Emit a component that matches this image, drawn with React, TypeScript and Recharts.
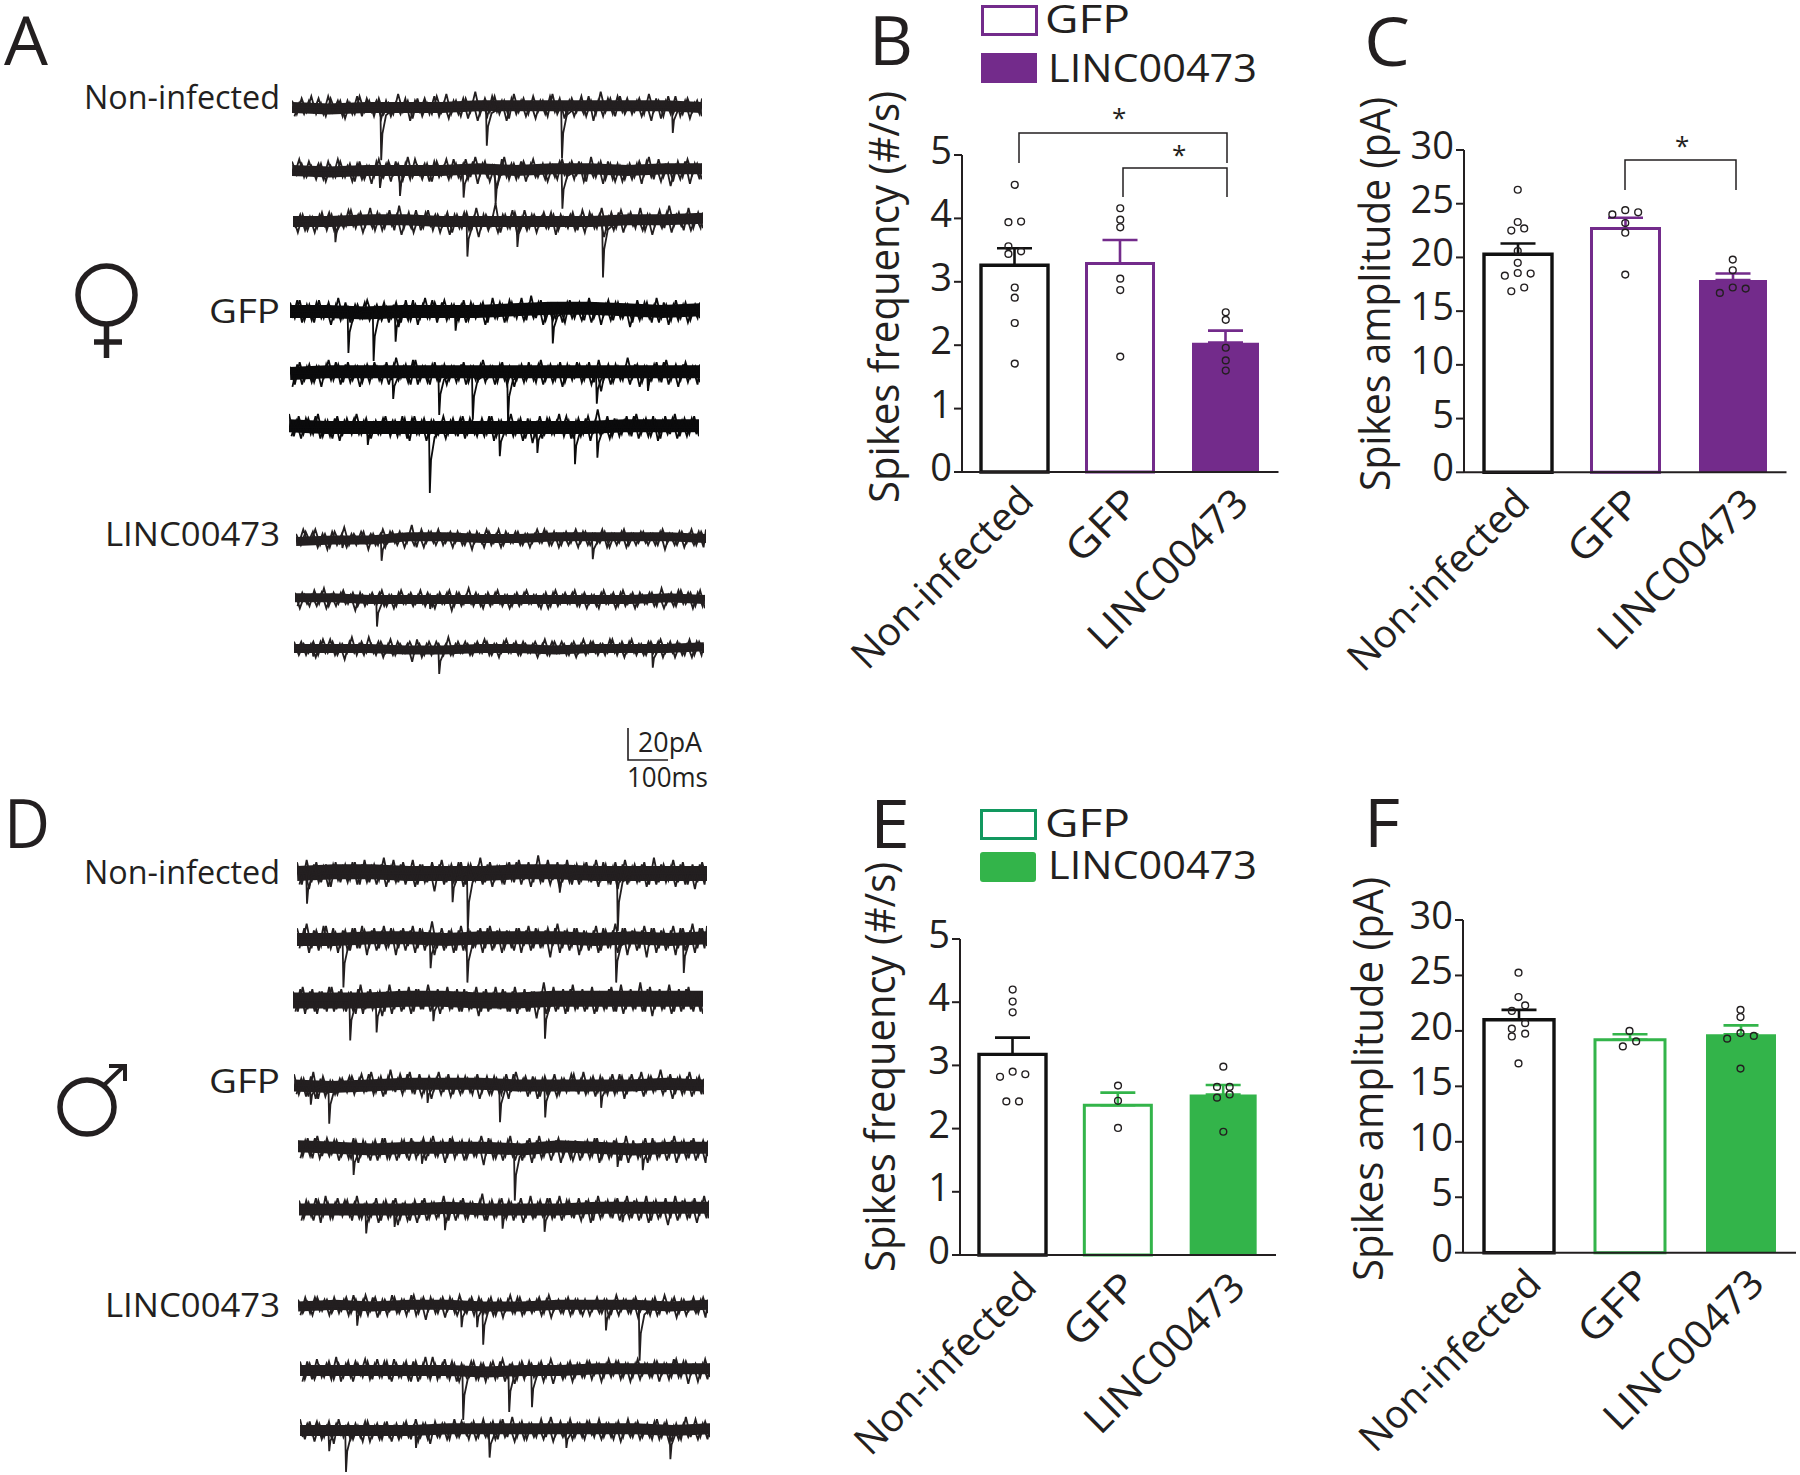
import React from 'react';
import { ComposedChart, LineChart, Line, Bar, Scatter, ErrorBar, XAxis, YAxis } from 'recharts';

const INK = '#231f20';
const PURPLE = '#732b8b';
const GREEN = '#33b44a';
const TEAL = '#12985f';

const groups = ['Non-infected', 'GFP', 'LINC00473'];
const freqTicks = [0, 1, 2, 3, 4, 5];
const ampTicks = [0, 5, 10, 15, 20, 25, 30];

// Panel B
const bMeans = [3.26, 3.29, 2.04];
const bSem = [0.27, 0.37, 0.19];
const bDots = [
  [0, 0, 4.53], [0, -0.06, 3.94], [0, 0.06, 3.95], [0, -0.06, 3.56], [0, 0.06, 3.48], [0, -0.06, 3.44], [0, 0, 2.91], [0, 0, 2.75], [0, 0, 2.35], [0, 0, 1.71],
  [1, 0, 4.16], [1, 0, 3.98], [1, 0, 3.86], [1, 0, 3.05], [1, 0, 2.87], [1, 0, 1.82],
  [2, 0, 2.52], [2, 0, 2.4], [2, 0, 1.96], [2, 0, 1.76], [2, 0, 1.6],
];
// Panel C
const cMeans = [20.3, 22.7, 17.9];
const cSem = [1.0, 1.0, 0.6];
const cDots = [
  [0, 0, 26.3], [0, 0, 23.3], [0, -0.06, 22.5], [0, 0.06, 22.7], [0, 0, 20.6], [0, 0, 19.5], [0, 0, 18.55], [0, -0.12, 18.3], [0, 0.12, 18.5], [0, 0.06, 17.2], [0, -0.06, 16.85],
  [1, 0, 24.4], [1, -0.12, 24.0], [1, 0.12, 24.2], [1, 0, 23.2], [1, 0, 22.3], [1, 0, 18.4],
  [2, 0, 19.8], [2, 0, 18.8], [2, 0, 17.2], [2, -0.12, 16.7], [2, 0.12, 17.1],
];
// Panel E
const eMeans = [3.175, 2.37, 2.54];
const eSem = [0.265, 0.2, 0.15];
const eDots = [
  [0, 0, 4.2], [0, 0, 4.01], [0, 0, 3.84], [0, 0, 2.9], [0, -0.12, 2.82], [0, 0.12, 2.86], [0, -0.06, 2.43], [0, 0.06, 2.43],
  [1, 0, 2.68], [1, 0, 2.44], [1, 0, 2.01],
  [2, 0, 2.98], [2, -0.06, 2.66], [2, 0.06, 2.66], [2, -0.06, 2.49], [2, 0.06, 2.54], [2, 0, 1.95],
];
// Panel F
const fMeans = [21.0, 19.2, 19.7];
const fSem = [0.9, 0.5, 0.8];
const fDots = [
  [0, 0, 25.25], [0, 0, 23.05], [0, 0.06, 22.3], [0, -0.06, 21.8], [0, 0.06, 20.7], [0, -0.06, 20.2], [0, -0.06, 19.5], [0, 0.06, 19.75], [0, 0, 17.07],
  [1, 0, 20.0], [1, 0.06, 19.05], [1, -0.06, 18.6],
  [2, 0, 21.9], [2, 0, 21.25], [2, 0, 19.8], [2, -0.12, 19.3], [2, 0.12, 19.55], [2, 0, 16.6],
];

// Current traces: fringe samples in pA, slow drift in pA, events as [ms, depth in pA]
const a1Noise = [3,-3,4,-2,5,-3,2,-4,4,-2,3,-5,2,-3,5,-2,3,-4,4,-3,2,-3,6,-2,3,-5,4,-4,2,-3,5,-2,6,-3,3,-4,4,-2,7,-3,4,-2,5,-3,3,-5,6,-2,4,-3,5,-2,3,-4,6,-3,2,-3,4,-2,5,-4,3,-3,7,-2,4,-4,5,-3,2,-2,4,-3,6,-2,3,-4,5,-3,2,-3,4,-2,3,-4];
const a2Noise = [4,-2,3,-3,2,-4,3,-5,2,-3,4,-3,3,-5,4,-4,2,-3,5,-3,4,-2,3,-4,6,-3,2,-4,3,-5,4,-2,5,-3,3,-4,5,-3,6,-2,4,-5,2,-3,6,-4,3,-3,4,-2,5,-3,3,-5,2,-4,5,-3,4,-2,3,-5,6,-3,4,-4,3,-5,2,-4,3,-3,4,-2,6,-4,5,-3,3,-5,4,-3,5,-2,3,-4];
const a3Noise = [2,-5,3,-4,2,-3,4,-4,3,-5,3,-2,5,-3,4,-2,6,-4,3,-3,5,-4,7,-3,4,-5,2,-3,5,-4,3,-2,4,-5,3,-3,4,-4,6,-3,3,-2,8,-5,3,-3,4,-4,5,-3,3,-2,4,-3,3,-4,2,-3,4,-4,5,-2,3,-3,6,-4,4,-3,5,-2,4,-3,6,-4,3,-2,5,-3,7,-2,4,-4,6,-3,4,-3];
const a4Noise = [4,-3,5,-4,3,-5,5,-3,4,-4,6,-3,2,-4,3,-3,5,-2,3,-4,2,-3,4,-5,5,-4,3,-3,6,-3,4,-2,5,-3,3,-4,5,-4,3,-2,4,-5,6,-3,3,-4,4,-3,6,-4,7,-3,5,-4,3,-3,2,-5,5,-3,4,-4,6,-3,3,-2,5,-4,4,-3,3,-5,5,-3,4,-5,6,-3,3,-4,5,-3,4,-4,3,-3];
const a5Noise = [3,-5,5,-3,4,-4,3,-2,6,-3,4,-4,5,-3,3,-4,4,-2,3,-4,5,-3,7,-2,4,-5,6,-3,3,-5,5,-4,4,-3,3,-3,5,-4,3,-3,6,-2,3,-4,5,-5,2,-3,4,-3,3,-4,6,-3,4,-3,5,-4,3,-2,4,-3,5,-4,6,-3,4,-4,3,-3,7,-2,4,-4,3,-3,5,-4,6,-3,4,-3,5,-2,3,-4];
const a6Noise = [6,-4,5,-3,4,-3,6,-4,3,-5,5,-4,4,-3,6,-3,4,-5,3,-3,5,-4,3,-3,4,-6,5,-3,4,-4,3,-3,5,-3,4,-4,5,-3,3,-4,4,-3,5,-4,3,-3,6,-3,4,-5,3,-4,5,-3,4,-3,6,-4,3,-5,4,-3,5,-3,8,-3,5,-4,3,-3,5,-4,6,-3,4,-4,3,-5,5,-3,6,-4,4,-3,5,-4];
const a7Noise = [2,-3,3,-2,4,-3,2,-4,3,-2,5,-3,2,-2,3,-5,2,-3,4,-2,3,-3,2,-2,6,-4,4,-2,3,-3,2,-2,3,-2,2,-3,3,-2,2,-4,3,-2,4,-3,2,-2,3,-3,2,-2,4,-2,3,-3,2,-3,3,-2,4,-2,3,-3,2,-2,3,-4,2,-2,4,-3,2,-2,3,-3,2,-3,4,-2,2,-3,3,-2,4,-3,3,-2];
const a8Noise = [3,-4,2,-3,4,-2,5,-3,3,-2,4,-2,3,-3,2,-2,3,-2,4,-3,2,-3,4,-2,3,-2,4,-3,2,-4,3,-2,4,-3,3,-2,5,-3,2,-4,3,-2,4,-3,2,-3,3,-2,4,-2,2,-4,3,-3,4,-2,3,-2,4,-3,3,-2,2,-4,4,-2,3,-3,4,-2,3,-3,2,-2,3,-3,5,-2,3,-3,4,-2,3,-3,4,-4];
const a9Noise = [3,-3,2,-2,3,-3,4,-2,3,-3,2,-2,5,-3,3,-2,2,-3,3,-2,4,-3,2,-2,3,-2,2,-3,3,-2,2,-3,5,-3,3,-2,2,-3,3,-2,3,-3,2,-2,4,-2,3,-3,2,-2,3,-2,4,-3,3,-2,2,-3,3,-2,4,-2,3,-3,2,-2,4,-3,3,-2,4,-3,2,-3,3,-2,4,-2,3,-4,2,-3,4,-3,3,-2];
const d1Noise = [5,-5,6,-4,5,-4,4,-6,5,-4,4,-3,5,-5,6,-4,4,-3,7,-4,6,-4,5,-3,6,-5,4,-4,5,-3,6,-4,4,-3,5,-5,4,-3,7,-4,5,-3,3,-5,5,-4,6,-3,5,-4,8,-4,6,-3,5,-4,6,-5,4,-3,5,-4,6,-3,4,-5,5,-4,6,-3,4,-4,5,-5,7,-4,4,-3,6,-4,5,-5,4,-4,5,-3];
const d2Noise = [5,-3,7,-4,4,-3,6,-4,3,-3,4,-5,5,-4,4,-3,5,-4,6,-3,4,-4,5,-3,6,-4,4,-3,8,-4,5,-3,4,-5,6,-4,3,-3,5,-4,6,-3,4,-4,3,-5,5,-3,6,-4,4,-3,5,-3,7,-4,4,-3,5,-4,3,-3,6,-5,4,-3,7,-4,5,-3,4,-4,6,-3,5,-4,4,-3,6,-4,5,-3,7,-4,5,-3];
const d3Noise = [4,-5,6,-4,5,-6,4,-5,6,-4,5,-5,4,-6,7,-4,5,-3,4,-5,7,-4,5,-4,6,-5,5,-4,7,-3,5,-4,6,-4,5,-5,4,-4,6,-5,5,-4,6,-4,4,-5,6,-4,5,-5,4,-4,8,-5,6,-4,5,-5,7,-4,5,-4,6,-5,4,-4,6,-5,7,-4,5,-4,8,-5,6,-4,5,-4,7,-5,5,-4,6,-5,4,-6];
const d4Noise = [5,-4,3,-5,6,-6,4,-3,2,-4,3,-3,4,-2,5,-3,6,-3,4,-4,7,-3,5,-2,6,-4,5,-3,4,-2,6,-3,5,-4,4,-3,3,-4,5,-3,4,-4,3,-4,5,-3,6,-2,4,-3,3,-5,4,-3,5,-4,3,-2,5,-4,6,-3,4,-3,3,-4,5,-3,4,-4,5,-3,6,-3,4,-2,7,-3,5,-4,4,-3,6,-3,4,-4];
const d5Noise = [4,-3,5,-4,6,-3,5,-2,4,-3,2,-4,4,-3,3,-5,4,-3,5,-4,2,-3,4,-5,3,-2,5,-3,6,-3,4,-3,5,-2,4,-4,3,-3,6,-2,4,-4,3,-3,6,-5,2,-3,5,-4,6,-3,4,-2,5,-3,3,-5,2,-3,4,-3,5,-4,3,-3,4,-5,6,-3,2,-3,5,-4,3,-3,4,-3,6,-3,4,-4,5,-3,4,-3];
const d6Noise = [4,-4,3,-5,4,-3,3,-4,5,-3,4,-5,6,-4,3,-3,5,-5,4,-3,5,-4,3,-5,4,-3,5,-4,3,-3,6,-5,4,-3,5,-4,3,-3,7,-5,4,-3,5,-4,3,-3,5,-4,6,-4,4,-3,5,-4,6,-3,4,-4,5,-3,4,-5,6,-3,4,-4,5,-3,6,-4,4,-3,6,-5,4,-3,5,-4,6,-3,4,-4,5,-3,6,-4];
const d7Noise = [3,-3,2,-4,4,-2,3,-3,2,-2,4,-3,3,-4,5,-2,4,-3,3,-2,4,-3,3,-2,5,-3,4,-2,3,-3,4,-2,3,-4,2,-3,4,-2,3,-3,4,-4,3,-2,5,-3,4,-3,3,-2,4,-3,5,-2,3,-3,4,-3,3,-4,2,-2,4,-3,3,-3,5,-2,3,-3,4,-2,3,-4,4,-3,5,-2,4,-3,3,-2,4,-3,4,-3];
const d8Noise = [4,-4,3,-4,2,-3,4,-4,3,-3,4,-5,3,-3,4,-4,5,-3,4,-5,3,-3,4,-5,4,-3,6,-4,3,-3,5,-4,3,-5,2,-3,4,-4,3,-3,4,-3,5,-3,3,-4,4,-2,3,-3,4,-3,5,-2,3,-3,4,-3,3,-3,4,-2,3,-3,5,-2,4,-3,3,-3,5,-2,3,-3,4,-2,3,-3,5,-3,4,-2,3,-3,5,-3];
const d9Noise = [5,-4,4,-5,3,-3,4,-6,5,-3,3,-4,2,-5,4,-3,3,-4,4,-5,3,-3,4,-4,5,-3,3,-6,4,-3,3,-4,5,-3,3,-4,4,-3,5,-3,4,-4,5,-3,6,-3,4,-4,3,-3,5,-3,6,-2,4,-3,5,-3,3,-4,4,-3,5,-3,3,-4,4,-3,5,-3,4,-3,3,-4,5,-3,4,-5,3,-4,6,-3,5,-3,4,-3];

const a1Drift = [0, -1, 0, 0, 0, 1, 1, 1, 1, 1, 1, 0];
const a2Drift = [0, -1, 0, 0, 0, 1, 0, 1, 1, 0, 1, 1];
const a3Drift = [0, 0, 1, 1, 0, 0, 0, 0, 0, 1, 1, 2];
const a4Drift = [0, 0, -1, 0, 0, 0, 1, 2, 2, 1, 0, 1];
const a5Drift = [0, 1, 1, 1, 1, 1, 1, 1, 1, 1, 1, 1];
const a6Drift = [1, 0, 0, 0, 0, 0, 0, 0, 0, 1, 1, 1];
const a7Drift = [-2, -1, -1, 1, 1, 0, 0, 1, 1, 1, 1, 0];
const a8Drift = [1, 1, 0, 0, 0, 0, 0, 0, 0, 0, 1, 0];
const a9Drift = [0, 0, 0, -1, -1, 0, 0, -1, 0, 0, 0, 1];
const d1Drift = [0, 1, 1, 0, 0, 0, 1, 1, 0, 0, 0, 0];
const d2Drift = [0, 0, 1, 1, 0, 1, 1, 1, 0, 1, 0, 1];
const d3Drift = [0, 0, 0, 1, 1, 0, 0, 1, 1, 1, 1, 1];
const d4Drift = [0, -1, 0, 1, 1, 1, 0, 0, 0, 0, 1, 0];
const d5Drift = [2, 1, 0, 1, 1, 1, 0, 2, 1, 0, 1, 1];
const d6Drift = [0, 0, 0, 0, 1, 0, 0, 0, 1, 1, 1, 1];
const d7Drift = [0, 1, 0, 1, 1, 0, 0, 1, 1, 1, 0, 1];
const d8Drift = [0, 0, 0, 0, 0, -1, 0, 0, 1, 1, 1, 1];
const d9Drift = [0, 0, 0, 0, 1, 1, 1, 1, 1, 1, 0, 1];

const a1Events = [[223, 33], [487, 24], [675, 32], [952, 16]];
const a2Events = [[220, 11], [270, 16], [429, 17], [509, 21], [676, 24]];
const a3Events = [[106, 13], [436, 22], [561, 16], [775, 35]];
const a4Events = [[146, 26], [209, 31], [264, 19], [414, 12], [657, 20]];
const a5Events = [[258, 16], [373, 26], [457, 29], [545, 29], [767, 19], [895, 11]];
const a6Events = [[197, 11], [352, 41], [527, 18], [621, 16], [715, 23], [771, 19]];
const a7Events = [[116, 6], [214, 14], [742, 13]];
const a8Events = [[205, 17], [338, 6]];
const a9Events = [[48, 5], [363, 16], [897, 12]];
const d1Events = [[25, 19], [389, 18], [427, 36], [657, 12], [802, 36]];
const d2Events = [[116, 30], [334, 18], [426, 27], [798, 27], [967, 21]];
const d3Events = [[143, 25], [209, 20], [351, 13], [630, 24]];
const d4Events = [[42, 12], [88, 24], [334, 11], [515, 23], [628, 20], [768, 14]];
const d5Events = [[139, 16], [310, 9], [542, 32], [799, 11], [862, 13]];
const d6Events = [[168, 15], [239, 11], [365, 13], [509, 12], [614, 14], [809, 8]];
const d7Events = [[148, 12], [409, 13], [448, 13], [463, 24], [770, 15], [854, 34]];
const d8Events = [[408, 31], [523, 26], [580, 23]];
const d9Events = [[73, 13], [115, 26], [290, 11], [474, 17], [666, 11], [926, 18]];

const DURATION = 1025; // ms across one trace
const PX_PER_PA = 1.6;
const FRINGE_GAIN = 1.4;

const traces = [
  { left: 292, mid: 107, noise: a1Noise, second: a2Noise, drift: a1Drift, events: a1Events, band: 11, color: '#231f20' },
  { left: 292, mid: 170, noise: a2Noise, second: a3Noise, drift: a2Drift, events: a2Events, band: 11, color: '#231f20' },
  { left: 293, mid: 221, noise: a3Noise, second: a1Noise, drift: a3Drift, events: a3Events, band: 11, color: '#231f20' },
  { left: 290, mid: 311, noise: a4Noise, second: a5Noise, drift: a4Drift, events: a4Events, band: 13, color: '#0b0b0c' },
  { left: 290, mid: 373, noise: a5Noise, second: a6Noise, drift: a5Drift, events: a5Events, band: 13, color: '#0b0b0c' },
  { left: 289, mid: 427, noise: a6Noise, second: a4Noise, drift: a6Drift, events: a6Events, band: 13, color: '#0b0b0c' },
  { left: 296, mid: 538, noise: a7Noise, second: a8Noise, drift: a7Drift, events: a7Events, band: 9, color: '#231f20' },
  { left: 295, mid: 599, noise: a8Noise, second: a9Noise, drift: a8Drift, events: a8Events, band: 9, color: '#231f20' },
  { left: 294, mid: 648, noise: a9Noise, second: a7Noise, drift: a9Drift, events: a9Events, band: 9, color: '#231f20' },
  { left: 297, mid: 873, noise: d1Noise, second: d2Noise, drift: d1Drift, events: d1Events, band: 15, color: '#231f20' },
  { left: 297, mid: 939, noise: d2Noise, second: d3Noise, drift: d2Drift, events: d2Events, band: 13, color: '#231f20' },
  { left: 293, mid: 1000, noise: d3Noise, second: d1Noise, drift: d3Drift, events: d3Events, band: 16, color: '#231f20' },
  { left: 294, mid: 1085, noise: d4Noise, second: d5Noise, drift: d4Drift, events: d4Events, band: 12, color: '#231f20' },
  { left: 298, mid: 1149, noise: d5Noise, second: d6Noise, drift: d5Drift, events: d5Events, band: 12, color: '#231f20' },
  { left: 299, mid: 1209, noise: d6Noise, second: d4Noise, drift: d6Drift, events: d6Events, band: 12, color: '#231f20' },
  { left: 298, mid: 1306, noise: d7Noise, second: d8Noise, drift: d7Drift, events: d7Events, band: 10, color: '#231f20' },
  { left: 300, mid: 1370, noise: d8Noise, second: d9Noise, drift: d8Drift, events: d8Events, band: 11, color: '#231f20' },
  { left: 300, mid: 1430, noise: d9Noise, second: d7Noise, drift: d9Drift, events: d9Events, band: 11, color: '#231f20' },
];

const FONT = '"Open Sans", sans-serif';

function Trace({ left, mid, noise, second, drift, events, band, color }: any) {
  // one table for the series, gaps are bridged by connectNulls
  const rows: any[] = [];
  const step = DURATION / (noise.length - 1);
  noise.forEach((v: number, i: number) => rows.push({ t: i * step, fringe: v * FRINGE_GAIN }));
  second.forEach((v: number, i: number) => rows.push({ t: Math.min((i + 0.5) * step, DURATION), fringe2: -v * FRINGE_GAIN }));
  drift.forEach((v: number, i: number) => rows.push({ t: (i * DURATION) / (drift.length - 1), level: v }));
  rows.push({ t: 0, event: 0 }, { t: DURATION, event: 0 });
  events.forEach(([t, d]: number[]) => {
    rows.push({ t: t - 2, event: 0 }, { t, event: -d }, { t: t + 3, event: -d * 0.5 }, { t: t + 12, event: -d * 0.15 }, { t: t + 35, event: 0 });
  });
  rows.sort((p, q) => p.t - q.t);
  const top = 14;
  const bottom = -50;
  const height = (top - bottom) * PX_PER_PA;
  return (
    <div style={{ position: 'absolute', left, top: mid - top * PX_PER_PA }}>
      <LineChart width={410} height={height} data={rows} margin={{ top: 0, right: 0, bottom: 0, left: 0 }}>
        <XAxis hide type="number" dataKey="t" domain={[0, DURATION]} />
        <YAxis hide type="number" domain={[bottom, top]} />
        <Line dataKey="level" connectNulls stroke={color} strokeWidth={band} dot={false} strokeLinecap="butt" isAnimationActive={false} />
        <Line dataKey="fringe" connectNulls stroke={color} strokeWidth={1.8} dot={false} isAnimationActive={false} />
        <Line dataKey="fringe2" connectNulls stroke={color} strokeWidth={1.8} dot={false} isAnimationActive={false} />
        <Line dataKey="event" connectNulls stroke={color} strokeWidth={1.8} dot={false} isAnimationActive={false} />
      </LineChart>
    </div>
  );
}

const YTick = ({ x, y, payload }: any) => (
  <text x={x} y={y + 9} textAnchor="end" fontFamily={FONT} fontSize={38} fill={INK}>{payload.value}</text>
);

const labelLengths: Record<string, number> = { 'Non-infected': 238, GFP: 85, 'LINC00473': 208 };

const XTick = ({ x, y, payload, offsets }: any) => {
  const [dx, dy] = offsets[groups.indexOf(payload.value)] || [0, 0];
  return (
    <text
      transform={`translate(${x + dx},${y + dy}) rotate(-45)`}
      textAnchor="end"
      fontFamily={FONT}
      fontSize={39}
      fill={INK}
      textLength={labelLengths[payload.value]}
      lengthAdjust="spacingAndGlyphs"
    >
      {payload.value}
    </text>
  );
};

function BarPanel({ left, y0, yTop, plotW, barW, means, sem, dots, ticks, max, accent, offsets }: any) {
  const yW = 80;
  const pad = 90; // room for the slanted first label
  const mt = 20;
  const plotH = y0 - yTop;
  const rows = groups.map((name, i) => ({ name, a: i === 0 ? means[i] : null, b: i === 1 ? means[i] : null, c: i === 2 ? means[i] : null, err: [0, sem[i]] }));
  const pts = dots.map(([g, off, v]: number[]) => ({ x: g + 0.5 + off, y: v }));
  const ring = (p: any) => <circle cx={p.cx} cy={p.cy} r={3.4} fill="none" stroke={INK} strokeWidth={1.4} />;
  const axisLine = { stroke: INK, strokeWidth: 2 };
  return (
    <div style={{ position: 'absolute', left: left - yW - pad, top: yTop - mt }}>
      <ComposedChart width={pad + yW + plotW + 10} height={mt + plotH + 230} data={rows} margin={{ top: mt, right: 10, bottom: 0, left: pad }} barCategoryGap={0}>
        <XAxis dataKey="name" height={230} interval={0} axisLine={axisLine} tickLine={false} tick={<XTick offsets={offsets} />} />
        <XAxis xAxisId="dots" dataKey="x" hide type="number" domain={[0, 3]} />
        <YAxis width={yW} type="number" domain={[0, max]} ticks={ticks} interval={0} axisLine={axisLine} tickLine={{ stroke: INK, strokeWidth: 2 }} tickSize={8} tick={<YTick />} />
        <Bar dataKey="a" stackId="s" barSize={barW - 3} fill="#ffffff" stroke="#111111" strokeWidth={3.4} isAnimationActive={false}>
          <ErrorBar dataKey="err" width={17.5} stroke="#111111" strokeWidth={2.6} direction="y" isAnimationActive={false} />
        </Bar>
        <Bar dataKey="b" stackId="s" barSize={barW - 3} fill="#ffffff" stroke={accent} strokeWidth={3} isAnimationActive={false}>
          <ErrorBar dataKey="err" width={17.5} stroke={accent} strokeWidth={2.6} direction="y" isAnimationActive={false} />
        </Bar>
        <Bar dataKey="c" stackId="s" barSize={barW} fill={accent} isAnimationActive={false}>
          <ErrorBar dataKey="err" width={17.5} stroke={accent} strokeWidth={2.6} direction="y" isAnimationActive={false} />
        </Bar>
        <Scatter data={pts} xAxisId="dots" dataKey="y" shape={ring} isAnimationActive={false} />
      </ComposedChart>
    </div>
  );
}

const Txt = ({ x, y, size, len, children, rot }: any) => (
  <text
    x={rot ? undefined : x}
    y={rot ? undefined : y}
    transform={rot ? `translate(${x},${y}) rotate(${rot})` : undefined}
    fontFamily={FONT}
    fontSize={size}
    fill={INK}
    textLength={len}
    lengthAdjust="spacingAndGlyphs"
  >
    {children}
  </text>
);

const Bracket = ({ x1, x2, top, b1, b2 }: any) => (
  <path d={`M${x1} ${b1}V${top}H${x2}V${b2}`} fill="none" stroke={INK} strokeWidth={1.5} />
);

function Annotations() {
  return (
    <svg width={1800} height={1475} style={{ position: 'absolute', left: 0, top: 0, pointerEvents: 'none' }}>
      <Txt x={4} y={65} size={68} len={44}>A</Txt>
      <Txt x={869} y={65} size={68} len={44}>B</Txt>
      <Txt x={1364} y={66} size={68} len={46}>C</Txt>
      <Txt x={4} y={848} size={68} len={46}>D</Txt>
      <Txt x={870} y={848} size={68} len={40}>E</Txt>
      <Txt x={1364} y={847} size={68} len={36}>F</Txt>

      <Txt x={84} y={109} size={33} len={196}>Non-infected</Txt>
      <Txt x={209} y={323} size={33} len={71}>GFP</Txt>
      <Txt x={105} y={546} size={33} len={175}>LINC00473</Txt>
      <Txt x={84} y={884} size={33} len={196}>Non-infected</Txt>
      <Txt x={209} y={1093} size={33} len={71}>GFP</Txt>
      <Txt x={105} y={1317} size={33} len={175}>LINC00473</Txt>

      <path d="M628 728V760H668" fill="none" stroke={INK} strokeWidth={1.6} />
      <Txt x={638} y={752} size={27} len={64}>20pA</Txt>
      <Txt x={627} y={787} size={27} len={81}>100ms</Txt>

      <g fill="none" stroke={INK} strokeWidth={5.5}>
        <ellipse cx={106.5} cy={295} rx={28.5} ry={29} />
        <path d="M106.5 324V358M94 342H122" />
        <circle cx={87} cy={1107} r={27} />
        <path d="M103 1086L124 1066M109 1066H125V1081" strokeWidth={4} />
      </g>

      <rect x={982.5} y={6.5} width={54} height={28} fill="#fff" stroke={PURPLE} strokeWidth={3} />
      <rect x={981} y={53} width={56} height={30} fill={PURPLE} />
      <Txt x={1045} y={33} size={38} len={85}>GFP</Txt>
      <Txt x={1048} y={82} size={38} len={209}>LINC00473</Txt>
      <rect x={981.5} y={810.5} width={54} height={28} fill="#fff" stroke={TEAL} strokeWidth={3} />
      <rect x={980} y={852} width={56} height={30} rx={3} fill={GREEN} />
      <Txt x={1045} y={837} size={38} len={85}>GFP</Txt>
      <Txt x={1048} y={879} size={38} len={209}>LINC00473</Txt>

      <Txt x={899} y={503} size={42} len={412} rot={-90}>Spikes frequency (#/s)</Txt>
      <Txt x={1390} y={491} size={42} len={394} rot={-90}>Spikes amplitude (pA)</Txt>
      <Txt x={895} y={1272} size={42} len={410} rot={-90}>Spikes frequency (#/s)</Txt>
      <Txt x={1383} y={1281} size={42} len={404} rot={-90}>Spikes amplitude (pA)</Txt>

      <Bracket x1={1019} x2={1227} top={133} b1={163} b2={163} />
      <Bracket x1={1123} x2={1227} top={168} b1={197} b2={197} />
      <Bracket x1={1625} x2={1736} top={160} b1={190} b2={190} />
      <Txt x={1112} y={127} size={26}>*</Txt>
      <Txt x={1172} y={164} size={26}>*</Txt>
      <Txt x={1675} y={155} size={26}>*</Txt>
    </svg>
  );
}

const bOffsets = [[21, 23], [21, 25], [25, 25]];
const cOffsets = [[14, 25], [18, 25], [28, 25]];
const eOffsets = [[26, 26], [21, 26], [24, 26]];
const fOffsets = [[25, 25], [24, 25], [26, 25]];

export default function App() {
  return (
    <div style={{ position: 'absolute', left: 0, top: 0, width: 1800, height: 1475, background: '#fff', overflow: 'hidden' }}>
      {traces.map((tr, i) => <Trace key={i} {...tr} />)}
      <BarPanel left={962.3} y0={472} yTop={155} plotW={316.5} barW={70} means={bMeans} sem={bSem} dots={bDots} ticks={freqTicks} max={5} accent={PURPLE} offsets={bOffsets} />
      <BarPanel left={1464} y0={472.3} yTop={150} plotW={322.5} barW={71} means={cMeans} sem={cSem} dots={cDots} ticks={ampTicks} max={30} accent={PURPLE} offsets={cOffsets} />
      <BarPanel left={960} y0={1255} yTop={939} plotW={316} barW={70} means={eMeans} sem={eSem} dots={eDots} ticks={freqTicks} max={5} accent={GREEN} offsets={eOffsets} />
      <BarPanel left={1462.5} y0={1253} yTop={920.3} plotW={333} barW={73} means={fMeans} sem={fSem} dots={fDots} ticks={ampTicks} max={30} accent={GREEN} offsets={fOffsets} />
      <Annotations />
    </div>
  );
}
